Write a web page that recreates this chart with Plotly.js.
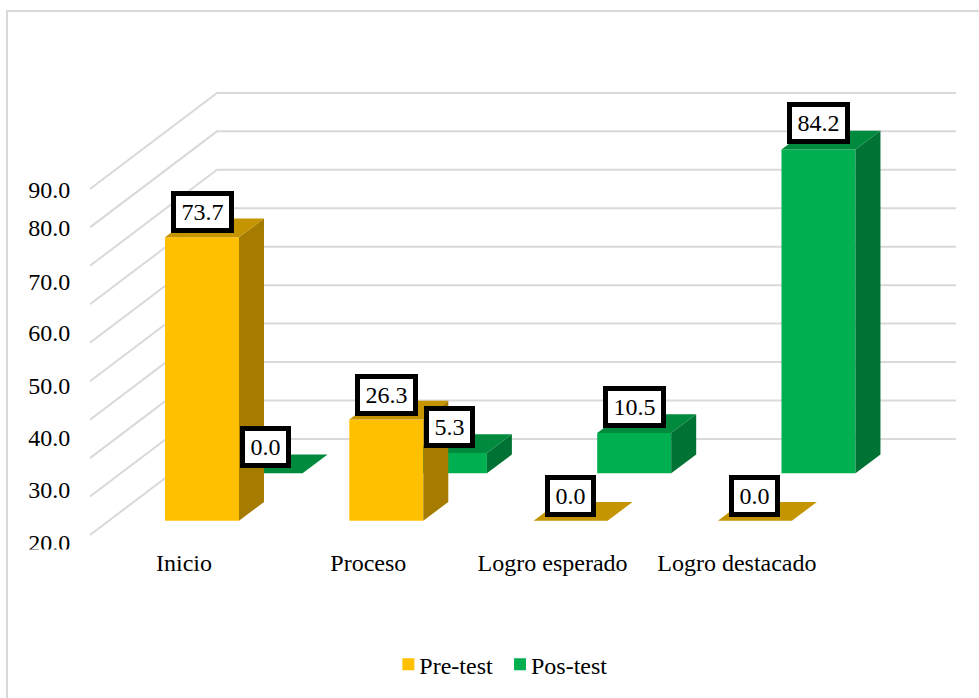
<!DOCTYPE html>
<html>
<head>
<meta charset="utf-8">
<script src="https://cdn.plot.ly/plotly-3.0.1.min.js"></script>
<style>html,body{margin:0;padding:0;background:#fff}#chart{width:979px;height:698px}</style>
</head>
<body>
<div id="chart"></div>
<script>
// ---- data ----
var categories = ["Inicio", "Proceso", "Logro esperado", "Logro destacado"];
var preTest = [73.7, 26.3, 0.0, 0.0];
var posTest = [0.0, 5.3, 10.5, 84.2];
var yTickText = ["90.0", "80.0", "70.0", "60.0", "50.0", "40.0", "30.0", "20.0"];
var yTickVals = [86.0, 76.1, 62.3, 48.8, 35.2, 21.5, 8.0, -5.8];
var gridValues = [0, 10, 20, 30, 40, 50, 60, 70, 80, 90];

// ---- oblique projection of the 3D chart (category units / value units) ----
var barWidth = 0.4015, depthX = 0.1356, depthY = 4.86;
var preOffset = -0.103, posOffset = 0.242, posBase = 12.33;
var wallX = -0.51, wallDepthX = 0.689, wallRight = 4.19, wallBase = -3.72, wallDepthY = 24.97;

function faces(values, offset, base) {
  var f = {front:{x:[],y:[]}, side:{x:[],y:[]}, top:{x:[],y:[]}};
  function add(t, xs, ys){ t.x = t.x.concat(xs, [null]); t.y = t.y.concat(ys, [null]); }
  values.forEach(function(v, i){
    var l = i + offset, r = l + barWidth, t = base + v;
    add(f.front, [l, r, r, l, l], [base, base, t, t, base]);
    add(f.side, [r, r + depthX, r + depthX, r, r], [base, base + depthY, t + depthY, t, base]);
    add(f.top, [l, r, r + depthX, l + depthX, l], [t, t, t + depthY, t + depthY, t]);
  });
  return f;
}
function poly(t, color) {
  return {type:"scatter", mode:"none", x:t.x, y:t.y, fill:"toself", fillcolor:color, showlegend:false, hoverinfo:"skip"};
}
function legendEntry(name, color) {
  return {type:"scatter", mode:"markers", x:[null], y:[null], name:name, marker:{symbol:"square", size:12, color:color}, hoverinfo:"skip"};
}
var pre = faces(preTest, preOffset, 0), pos = faces(posTest, posOffset, posBase);

var traces = [
  poly(pos.front, "#00B050"), poly(pos.side, "#007234"), poly(pos.top, "#008A3E"),
  poly(pre.front, "#FFC000"), poly(pre.side, "#A67C00"), poly(pre.top, "#C49500"),
  legendEntry("Pre-test", "#FFC000"), legendEntry("Pos-test", "#00B050")
];

var shapes = gridValues.map(function(g){
  return {type:"path", layer:"below", xref:"x", yref:"y",
    path:"M"+wallX+","+(g+wallBase)+" L"+(wallX+wallDepthX)+","+(g+wallBase+wallDepthY)+" L"+wallRight+","+(g+wallBase+wallDepthY),
    line:{color:"#D9D9D9", width:2}};
});
// chart-area frame (top and left edges are visible in the picture)
var L = 90, W = 889, T = 60, H = 488;
function px(x){ return (x-L)/W; }
function py(y){ return 1-(y-T)/H; }
shapes.push({type:"path", xref:"paper", yref:"paper", layer:"below",
  path:"M"+px(7)+","+py(698)+" L"+px(7)+","+py(11)+" L"+px(979)+","+py(11),
  line:{color:"#D9D9D9", width:2}});
// the lowest tick label is cut off at its foot in the reference
shapes.push({type:"rect", xref:"paper", yref:"paper", layer:"above",
  x0:px(20), x1:px(80), y0:py(554), y1:py(549.5), fillcolor:"#FFFFFF", line:{width:0}});

var serif = "'Liberation Serif','Times New Roman',serif";
function label(v, cat, offset, base){
  var txt = v.toFixed(1);
  return {x:cat + offset + barWidth/2, y:base + v, xref:"x", yref:"y", text:txt, showarrow:false,
    xanchor:"center", yanchor:"bottom", yshift:base > 0 ? 5 : 4, bgcolor:"#FFFFFF", bordercolor:"#000000",
    borderwidth:5, borderpad:1, width:txt.length*12+3, height:30, font:{family:serif, size:24, color:"#000000"}};
}
var annotations = [];
preTest.forEach(function(v,i){ annotations.push(label(v,i,preOffset,0)); });
posTest.forEach(function(v,i){ annotations.push(label(v,i,posOffset,posBase)); });

var layout = {
  width:979, height:698, margin:{l:L, r:0, t:T, b:698-T-H, pad:0},
  paper_bgcolor:"#FFFFFF", plot_bgcolor:"rgba(0,0,0,0)",
  font:{family:serif, size:24, color:"#000000"},
  hovermode:false,
  xaxis:{range:[-0.51, 4.3137], tickmode:"array", tickvals:[0,1,2,3], ticktext:categories,
    showgrid:false, zeroline:false, showline:false, ticks:"", fixedrange:true, ticklabelstandoff:-2,
    tickfont:{family:serif, size:24, color:"#000000"}},
  yaxis:{range:[-7.1, 119.8], tickmode:"array", tickvals:yTickVals, ticktext:yTickText,
    showgrid:false, zeroline:false, showline:false, ticks:"outside", ticklen:14, tickcolor:"rgba(0,0,0,0)", fixedrange:true,
    tickfont:{family:serif, size:24, color:"#000000"}},
  legend:{orientation:"h", x:0.3255, xanchor:"left", y:-0.193, yanchor:"top",
    font:{family:serif, size:24, color:"#000000"}, bgcolor:"rgba(0,0,0,0)", itemwidth:30},
  shapes:shapes, annotations:annotations
};
Plotly.newPlot("chart", traces, layout, {displayModeBar:false, staticPlot:true}).then(function(){
  // tighten the legend: swatches sit right next to their labels
  var items = document.querySelectorAll("#chart .legend .traces");
  items.forEach(function(item, i){
    var sym = item.querySelector(".legendsymbols") ;
    if (sym) sym.setAttribute("transform", "translate(9,0)");
    if (i === 1) {
      var t = item.getAttribute("transform") || "";
      var m = t.match(/translate\(([-\d.]+)[ ,]*([-\d.]*)/);
      if (m) item.setAttribute("transform", "translate(" + (parseFloat(m[1]) - 7) + "," + (parseFloat(m[2]) || 0) + ")");
    }
  });
});
</script>
</body>
</html>
